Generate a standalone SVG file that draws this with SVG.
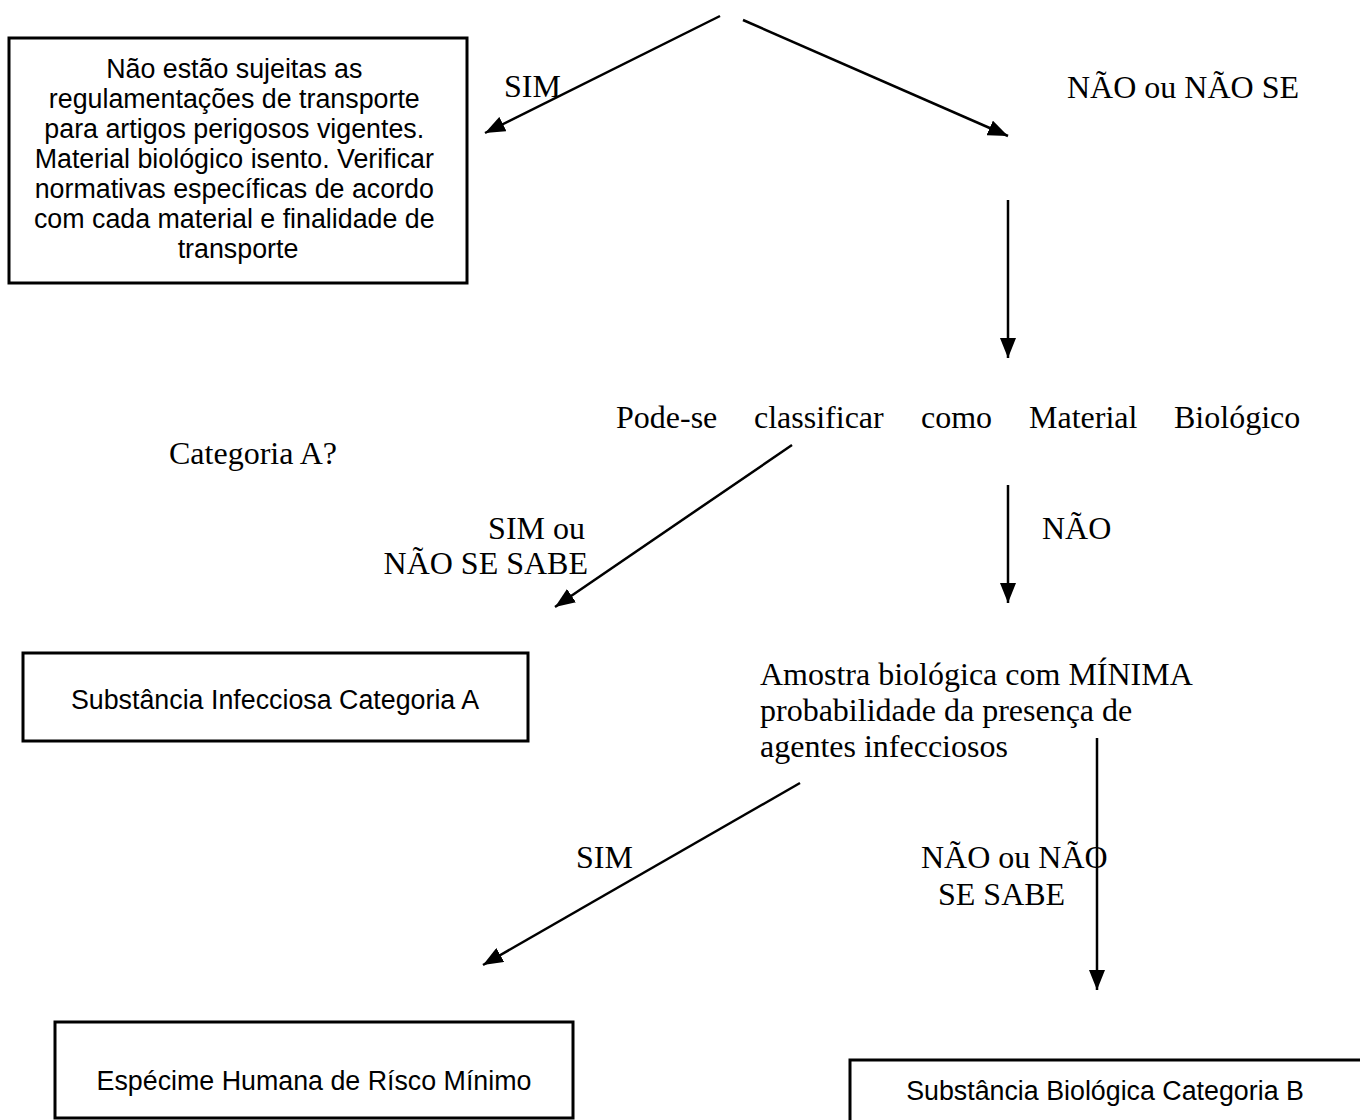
<svg xmlns="http://www.w3.org/2000/svg" width="1360" height="1120" viewBox="0 0 1360 1120">
<defs>
<marker id="ah" markerUnits="userSpaceOnUse" markerWidth="20" markerHeight="16" viewBox="0 0 20 16" refX="20" refY="8" orient="auto">
<path d="M0,0 L20,8 L0,16 Z" fill="#000"/>
</marker>
</defs>
<style>
.box{fill:#fff;stroke:#000;stroke-width:3}
.sans{font-family:"Liberation Sans",Arial,sans-serif;font-size:26.8px;fill:#000}
.serif{font-family:"Liberation Serif","Times New Roman",serif;font-size:32px;fill:#000}
.conn line{stroke:#000;stroke-width:2.5;marker-end:url(#ah)}
</style>
<rect width="1360" height="1120" fill="#fff"/>
<g id="connectors" class="conn">
<line x1="720" y1="16" x2="485" y2="133"/>
<line x1="743" y1="20" x2="1008" y2="136"/>
<line x1="1008" y1="200" x2="1008" y2="358"/>
<line x1="792" y1="445" x2="555" y2="607"/>
<line x1="1008" y1="485" x2="1008" y2="603"/>
<line x1="1097" y1="738" x2="1097" y2="990"/>
<line x1="800" y1="783" x2="483" y2="965"/>
</g>
<g id="node-isento">
<rect class="box" x="9" y="38" width="458" height="245"/>
<text class="sans" text-anchor="middle" x="238">
<tspan x="238" y="78">Não estão sujeitas as</tspan>
<tspan x="238" y="108">regulamentações de transporte</tspan>
<tspan x="238" y="138">para artigos perigosos vigentes.</tspan>
<tspan x="238" y="168">Material biológico isento. Verificar</tspan>
<tspan x="238" y="198">normativas específicas de acordo</tspan>
<tspan x="238" y="228">com cada material e finalidade de</tspan>
<tspan x="238" y="258">transporte</tspan>
</text>
</g>
<g id="labels-top">
<text class="serif" x="504" y="97">SIM</text>
<text class="serif" x="1067" y="98">NÃO ou NÃO SE</text>
</g>
<g id="node-question">
<text class="serif" x="616" y="428">Pode-se</text>
<text class="serif" x="754" y="428">classificar</text>
<text class="serif" x="921" y="428">como</text>
<text class="serif" x="1029" y="428">Material</text>
<text class="serif" x="1174" y="428">Biológico</text>
<text class="serif" x="169" y="464">Categoria A?</text>
</g>
<g id="labels-mid">
<text class="serif" text-anchor="end" x="585" y="539">SIM ou</text>
<text class="serif" text-anchor="end" x="588" y="574">NÃO SE SABE</text>
<text class="serif" x="1042" y="539">NÃO</text>
</g>
<g id="node-catA">
<rect class="box" x="23" y="653" width="505" height="88"/>
<text class="sans" text-anchor="middle" x="275" y="709">Substância Infecciosa Categoria A</text>
</g>
<g id="node-amostra">
<text class="serif" x="760" y="685">Amostra biológica com MÍNIMA</text>
<text class="serif" x="760" y="721">probabilidade da presença de</text>
<text class="serif" x="760" y="757">agentes infecciosos</text>
</g>
<g id="labels-low">
<text class="serif" x="576" y="868">SIM</text>
<text class="serif" x="921" y="868">NÃO ou NÃO</text>
<text class="serif" x="938" y="905">SE SABE</text>
</g>
<g id="node-especime">
<rect class="box" x="55" y="1022" width="518" height="96"/>
<text class="sans" text-anchor="middle" x="314" y="1090">Espécime Humana de Rísco Mínimo</text>
</g>
<g id="node-catB">
<rect class="box" x="850" y="1060" width="520" height="80"/>
<text class="sans" text-anchor="middle" x="1105" y="1100">Substância Biológica Categoria B</text>
</g>
</svg>
